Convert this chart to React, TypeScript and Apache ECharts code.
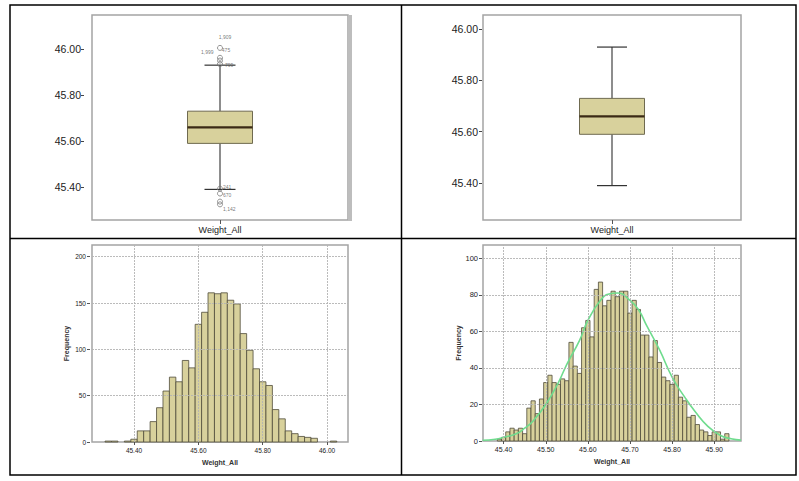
import React, { useEffect, useRef } from "react";
import * as echarts from "echarts";

// ---------- data ----------
const boxCategories = ["Weight_All"];
// [lower whisker, Q1, median, Q3, upper whisker]
const boxAll = [45.39, 45.59, 45.66, 45.73, 45.93];
const boxTrimmed = [45.39, 45.59, 45.66, 45.73, 45.93];
const outlierValues = [46.005, 45.962, 45.95, 45.935, 45.393, 45.372, 45.337, 45.325];
const outlierLabels = ["1,909", "1,999", "475", "799", "241", "670", "", "1,142"];
const boxTicks = [45.4, 45.6, 45.8, 46.0];

const histBinsA = [
  45.32, 45.34, 45.36, 45.38, 45.4, 45.42, 45.44, 45.46, 45.48, 45.5, 45.52, 45.54,
  45.56, 45.58, 45.6, 45.62, 45.64, 45.66, 45.68, 45.7, 45.72, 45.74, 45.76, 45.78,
  45.8, 45.82, 45.84, 45.86, 45.88, 45.9, 45.92, 45.94, 45.96, 45.98, 46.0, 46.02,
];
const histCountsA = [
  1, 1, 0, 1, 3, 12, 12, 22, 37, 55, 70, 65,
  88, 80, 127, 140, 161, 160, 161, 153, 149, 117, 99, 79,
  65, 61, 35, 25, 12, 9, 6, 5, 4, 0, 0, 1,
];
const histTicksXA = [45.4, 45.6, 45.8, 46.0];
const histTicksYA = [0, 50, 100, 150, 200];

const histBinsB = [
  45.39, 45.4, 45.41, 45.42, 45.43, 45.44, 45.45, 45.46, 45.47, 45.48, 45.49,
  45.5, 45.51, 45.52, 45.53, 45.54, 45.55, 45.56, 45.57, 45.58, 45.59,
  45.6, 45.61, 45.62, 45.63, 45.64, 45.65, 45.66, 45.67, 45.68, 45.69,
  45.7, 45.71, 45.72, 45.73, 45.74, 45.75, 45.76, 45.77, 45.78, 45.79,
  45.8, 45.81, 45.82, 45.83, 45.84, 45.85, 45.86, 45.87, 45.88, 45.89,
  45.9, 45.91, 45.92, 45.93,
];
const histCountsB = [
  1, 2, 5, 7, 6, 7, 4, 18, 22, 15, 23,
  32, 36, 32, 31, 34, 33, 54, 41, 37, 62,
  66, 57, 83, 87, 74, 77, 82, 79, 82, 82,
  70, 77, 72, 58, 58, 46, 55, 43, 35, 33,
  31, 36, 24, 22, 13, 14, 9, 6, 5, 3,
  5, 5, 1, 4,
];
const histTicksXB = [45.4, 45.5, 45.6, 45.7, 45.8, 45.9];
const histTicksYB = [0, 20, 40, 60, 80, 100];
const normalX = [
  45.35, 45.38, 45.4, 45.43, 45.45, 45.47, 45.5, 45.53, 45.55, 45.58, 45.6, 45.63,
  45.65, 45.67, 45.7, 45.72, 45.74, 45.77, 45.8, 45.83, 45.855, 45.885, 45.915, 45.94, 45.9636,
];
const normalY = [
  0.4, 1, 2, 4, 7, 11, 20, 32, 42, 55, 66, 77,
  80.5, 81, 77, 72, 63, 50, 35, 24, 16, 8, 3, 1.2, 0.5,
];

// ---------- styling ----------
const FONT = "'Liberation Sans', Arial, sans-serif";
const KHAKI = "#d8d19c";
const TXT = "#222";

export default function App() {
  const ref = useRef<HTMLDivElement>(null);

  useEffect(() => {
    if (!ref.current) return;
    const chart = echarts.init(ref.current, null, { renderer: "svg" });

    const boxRender = (capW: number, boxW: number) => (_p: any, api: any) => {
      const x = api.value(0);
      const lo = api.coord([x, api.value(1)]);
      const q1 = api.coord([x, api.value(2)]);
      const md = api.coord([x, api.value(3)]);
      const q3 = api.coord([x, api.value(4)]);
      const hi = api.coord([x, api.value(5)]);
      const cx = lo[0];
      return {
        type: "group",
        children: [
          { type: "line", shape: { x1: cx, y1: hi[1], x2: cx, y2: q3[1] }, style: { stroke: "#8d8d8d", lineWidth: 2 } },
          { type: "line", shape: { x1: cx, y1: q1[1], x2: cx, y2: lo[1] }, style: { stroke: "#8d8d8d", lineWidth: 2 } },
          { type: "line", shape: { x1: cx - capW / 2, y1: hi[1], x2: cx + capW / 2, y2: hi[1] }, style: { stroke: "#333", lineWidth: 1.2 } },
          { type: "line", shape: { x1: cx - capW / 2, y1: lo[1], x2: cx + capW / 2, y2: lo[1] }, style: { stroke: "#333", lineWidth: 1.2 } },
          { type: "rect", shape: { x: cx - boxW / 2, y: q3[1], width: boxW, height: q1[1] - q3[1] }, style: { fill: KHAKI, stroke: "#6f6a50", lineWidth: 1 } },
          { type: "line", shape: { x1: cx - boxW / 2, y1: md[1], x2: cx + boxW / 2, y2: md[1] }, style: { stroke: "#3b2a15", lineWidth: 2.2 } },
        ],
      };
    };

    const histRender = (w: number) => (_p: any, api: any) => {
      const x = api.value(0);
      const y = api.value(1);
      if (!y) return null;
      const a = api.coord([x - w / 2, y]);
      const b = api.coord([x + w / 2, 0]);
      return {
        type: "rect",
        shape: { x: a[0], y: a[1], width: b[0] - a[0], height: b[1] - a[1] },
        style: { fill: KHAKI, stroke: "#4f4b3a", lineWidth: 0.8 },
      };
    };

    const gridLines = (idx: number, xs: number[], ys: number[]) => ({
      type: "line",
      xAxisIndex: idx,
      yAxisIndex: idx,
      data: [],
      z: 1,
      silent: true,
      markLine: {
        silent: true,
        symbol: ["none", "none"],
        label: { show: false },
        animation: false,
        lineStyle: { color: "#b4b4b4", type: [2, 1], width: 1, opacity: 0.9 },
        emphasis: { disabled: true },
        data: [...xs.map((v) => ({ xAxis: v })), ...ys.filter((v) => v > 0).map((v) => ({ yAxis: v }))],
      },
    });

    // label placement for outlier ids (position, offset)
    const outlierPlacement: any[] = [
      { position: "top", offset: [5, 0] },
      { position: "left", offset: [1.5, -6] },
      { position: "top", offset: [6, 0] },
      { position: "right", offset: [-3, 1] },
      { position: "right", offset: [-5, -1.5] },
      { position: "right", offset: [-5, 1] },
      { position: "right", offset: [0, 0] },
      { position: "right", offset: [-5, 4.5] },
    ];

    const fmt2 = (v: number) => Number(v).toFixed(2);
    const fmt0 = (v: number) => String(Math.round(Number(v)));

    const catX = (gridIndex: number) => ({
      gridIndex,
      type: "category",
      data: boxCategories,
      axisLine: { show: false },
      axisTick: { show: true, alignWithLabel: true, length: 4, lineStyle: { color: "#555" } },
      axisLabel: { fontSize: 9, color: TXT, margin: 5 },
      splitLine: { show: false },
    });

    const option: any = {
      animation: false,
      backgroundColor: "#fff",
      textStyle: { fontFamily: FONT },
      grid: [
        { left: 92, top: 15, width: 256, height: 205, show: true, borderColor: "#a4a4a4", borderWidth: 1.5 },
        { left: 483, top: 15, width: 258, height: 205, show: true, borderColor: "#a4a4a4", borderWidth: 1.5 },
        { left: 92, top: 245, width: 256, height: 197, show: true, borderColor: "#a4a4a4", borderWidth: 1.5 },
        { left: 483, top: 245, width: 258, height: 196, show: true, borderColor: "#a4a4a4", borderWidth: 1.5 },
      ],
      xAxis: [
        catX(0),
        catX(1),
        {
          gridIndex: 2,
          type: "value",
          min: 45.2694,
          max: 46.065,
          axisLine: { show: false },
          axisTick: { show: true, customValues: histTicksXA, length: 3, lineStyle: { color: "#555" } },
          axisLabel: { customValues: histTicksXA, formatter: fmt2, fontSize: 6.5, margin: 5, color: TXT },
          splitLine: { show: false },
          name: "Weight_All",
          nameLocation: "middle",
          nameGap: 17,
          nameTextStyle: { fontSize: 7, fontWeight: "bold", color: "#333" },
        },
        {
          gridIndex: 3,
          type: "value",
          min: 45.351,
          max: 45.9636,
          axisLine: { show: false },
          axisTick: { show: true, customValues: histTicksXB, length: 3, lineStyle: { color: "#555" } },
          axisLabel: { customValues: histTicksXB, formatter: fmt2, fontSize: 7, margin: 5, color: TXT },
          splitLine: { show: false },
          name: "Weight_All",
          nameLocation: "middle",
          nameGap: 17,
          nameTextStyle: { fontSize: 7, fontWeight: "bold", color: "#333" },
        },
      ],
      yAxis: [
        {
          gridIndex: 0,
          type: "value",
          min: 45.257,
          max: 46.148,
          offset: 8,
          axisLine: { show: false },
          axisTick: { show: true, customValues: boxTicks, length: 3, lineStyle: { color: "#444" } },
          axisLabel: { customValues: boxTicks, formatter: fmt2, fontSize: 10.5, margin: 3, color: TXT },
          splitLine: { show: false },
        },
        {
          gridIndex: 1,
          type: "value",
          min: 45.256,
          max: 46.055,
          offset: 1,
          axisLine: { show: false },
          axisTick: { show: true, customValues: boxTicks, length: 3, lineStyle: { color: "#444" } },
          axisLabel: { customValues: boxTicks, formatter: fmt2, fontSize: 10.5, margin: 4, color: TXT },
          splitLine: { show: false },
        },
        {
          gridIndex: 2,
          type: "value",
          min: 0,
          max: 212.6,
          offset: 2,
          axisLine: { show: false },
          axisTick: { show: true, customValues: histTicksYA, length: 3, lineStyle: { color: "#555" } },
          axisLabel: { customValues: histTicksYA, formatter: fmt0, fontSize: 6.5, margin: 4, color: TXT },
          splitLine: { show: false },
          name: "Frequency",
          nameLocation: "middle",
          nameRotate: 90,
          nameGap: 20,
          nameTextStyle: { fontSize: 7, fontWeight: "bold", color: "#333" },
        },
        {
          gridIndex: 3,
          type: "value",
          min: 0,
          max: 107.3,
          offset: 1,
          axisLine: { show: false },
          axisTick: { show: true, customValues: histTicksYB, length: 3, lineStyle: { color: "#555" } },
          axisLabel: { customValues: histTicksYB, formatter: fmt0, fontSize: 7.5, margin: 4, color: TXT },
          splitLine: { show: false },
          name: "Frequency",
          nameLocation: "middle",
          nameRotate: 90,
          nameGap: 20,
          nameTextStyle: { fontSize: 7, fontWeight: "bold", color: "#333" },
        },
      ],
      series: [
        {
          type: "custom",
          xAxisIndex: 0,
          yAxisIndex: 0,
          z: 2,
          renderItem: boxRender(31, 65),
          encode: { x: 0, y: [1, 2, 3, 4, 5] },
          data: [[0, ...boxAll]],
        },
        {
          type: "scatter",
          xAxisIndex: 0,
          yAxisIndex: 0,
          z: 3,
          symbol: "circle",
          symbolSize: 5,
          itemStyle: { color: "rgba(255,255,255,0)", borderColor: "#7a7a7a", borderWidth: 1 },
          data: outlierValues.map((v, i) => ({
            value: [0, v],
            label: {
              show: outlierLabels[i] !== "",
              formatter: outlierLabels[i],
              fontSize: 5,
              color: "#555",
              distance: 5,
              position: outlierPlacement[i].position,
              offset: outlierPlacement[i].offset,
            },
          })),
        },
        {
          type: "custom",
          xAxisIndex: 1,
          yAxisIndex: 1,
          z: 2,
          renderItem: boxRender(30, 65),
          encode: { x: 0, y: [1, 2, 3, 4, 5] },
          data: [[0, ...boxTrimmed]],
        },
        gridLines(2, histTicksXA, histTicksYA),
        {
          type: "custom",
          xAxisIndex: 2,
          yAxisIndex: 2,
          z: 2,
          renderItem: histRender(0.02),
          encode: { x: 0, y: 1 },
          data: histBinsA.map((b, i) => [b, histCountsA[i]]),
        },
        gridLines(3, histTicksXB, histTicksYB),
        {
          type: "custom",
          xAxisIndex: 3,
          yAxisIndex: 3,
          z: 2,
          renderItem: histRender(0.01),
          encode: { x: 0, y: 1 },
          data: histBinsB.map((b, i) => [b, histCountsB[i]]),
        },
        {
          type: "line",
          xAxisIndex: 3,
          yAxisIndex: 3,
          z: 3,
          smooth: true,
          showSymbol: false,
          lineStyle: { color: "#6fdc8e", width: 1.6 },
          data: normalX.map((x, i) => [x, normalY[i]]),
        },
      ],
      graphic: [
        { type: "rect", shape: { x: 348, y: 15, width: 4, height: 206 }, style: { fill: "#bdbdbd" }, z: 10 },
        { type: "rect", shape: { x: 10, y: 5, width: 786, height: 470 }, style: { fill: "none", stroke: "#000", lineWidth: 1.5 }, z: 10 },
        { type: "line", shape: { x1: 401.5, y1: 5, x2: 401.5, y2: 475 }, style: { stroke: "#000", lineWidth: 1.5 }, z: 10 },
        { type: "line", shape: { x1: 10, y1: 238.5, x2: 796, y2: 238.5 }, style: { stroke: "#000", lineWidth: 1.5 }, z: 10 },
      ],
    };

    chart.setOption(option);
    return () => chart.dispose();
  }, []);

  return (
    <div
      ref={ref}
      style={{ position: "fixed", left: 0, top: 0, width: 799, height: 481, background: "#fff" }}
    />
  );
}
